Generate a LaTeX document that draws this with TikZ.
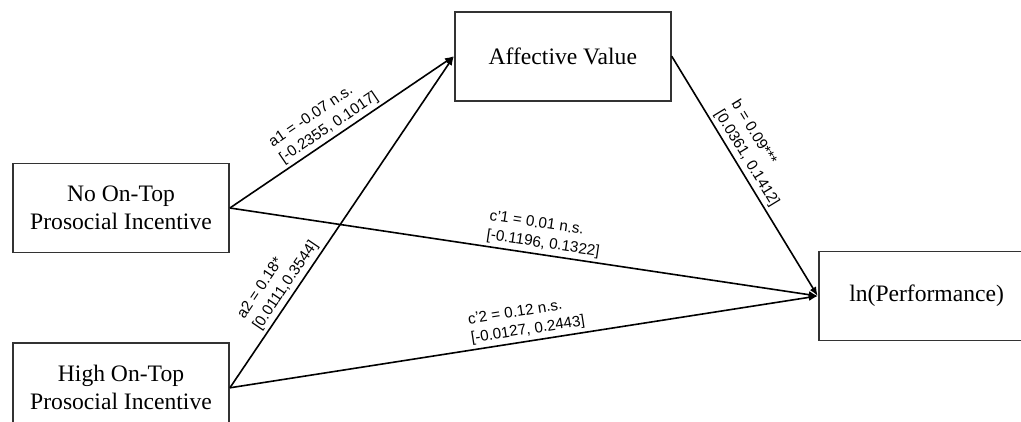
\documentclass[tikz,border=0pt]{standalone}
\usepackage{fontspec}
\setmainfont{Liberation Serif}
\setsansfont{Liberation Sans}
\usetikzlibrary{arrows.meta, positioning}

\begin{document}
\begin{tikzpicture}[
    block/.style = {rectangle, draw=black!80, line width=0.9pt, align=center,
                    minimum width=108pt, minimum height=44.5pt,
                    font=\fontsize{11.8}{14}\selectfont},
    arrow/.style = {line width=0.8pt, -{Latex[length=4.5pt, width=3.6pt]}},
    coef/.style  = {above, sloped, align=left, inner sep=1.5pt,
                    font=\sffamily\fontsize{7.6}{9.6}\selectfont}
]

\useasboundingbox (-60.5pt,-107pt) rectangle (450pt,104pt);

% =====================
% Nodes
% =====================

% Incentive conditions
\node[block] (noinc) {No On-Top\\ Prosocial Incentive};
\node[block, below=44.5pt of noinc] (highinc) {High On-Top\\ Prosocial Incentive};

% Mediator
\node[block, above right=30.5pt and 112pt of noinc] (affval) {Affective Value};

% Outcome
\node[block, below right=74.5pt and 73pt of affval] (perf) {ln(Performance)};

% =====================
% Paths
% =====================

\draw[arrow] (noinc.east) -- node[coef, pos=0.47]{a1 = -0.07 n.s.\\ {[}-0.2355, 0.1017{]}} (affval.west);
\draw[arrow] (highinc.east) -- node[coef, pos=0.29]{a2 = 0.18*\\ {[}0.0111,0.3544{]}} (affval.west);

\draw[arrow] (affval.east) -- node[coef, pos=0.45]{b = 0.09***\\ {[}0.0361, 0.1412{]}} (perf.west);

\draw[arrow] (noinc.east) -- node[coef, pos=0.53]{c'1 = 0.01 n.s.\\ {[}-0.1196, 0.1322{]}} (perf.west);
\draw[arrow] (highinc.east) -- node[coef, pos=0.51]{c'2 = 0.12 n.s.\\ {[}-0.0127, 0.2443{]}} (perf.west);

\end{tikzpicture}
\end{document}
